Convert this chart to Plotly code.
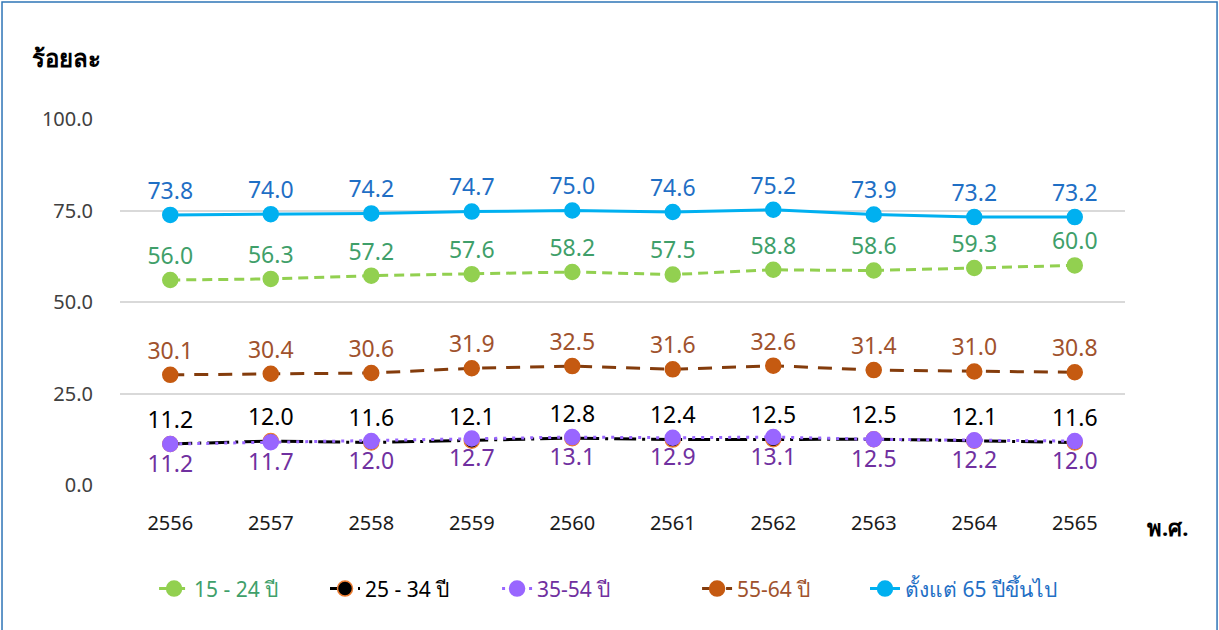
import plotly.graph_objects as go

years = ["2556", "2557", "2558", "2559", "2560", "2561", "2562", "2563", "2564", "2565"]
s15_24 = [56.0, 56.3, 57.2, 57.6, 58.2, 57.5, 58.8, 58.6, 59.3, 60.0]
s25_34 = [11.2, 12.0, 11.6, 12.1, 12.8, 12.4, 12.5, 12.5, 12.1, 11.6]
s35_54 = [11.2, 11.7, 12.0, 12.7, 13.1, 12.9, 13.1, 12.5, 12.2, 12.0]
s55_64 = [30.1, 30.4, 30.6, 31.9, 32.5, 31.6, 32.6, 31.4, 31.0, 30.8]
s65p = [73.8, 74.0, 74.2, 74.7, 75.0, 74.6, 75.2, 73.9, 73.2, 73.2]

names = ["15 - 24 ปี", "25 - 34 ปี", "35-54 ปี", "55-64 ปี", "ตั้งแต่ 65 ปีขึ้นไป"]

FONT = "Tahoma, 'Noto Sans', 'DejaVu Sans', sans-serif"
LBL = 23

fig = go.Figure()

def add(y, name, lcolor, dash, mcolor, mline, tcolor, tpos, legend, width=3):
    fig.add_trace(go.Scatter(
        x=years, y=y, mode="lines+markers+text",
        name=f"<span style='color:{tcolor}'>{name}</span>",
        legend=legend,
        line=dict(color=lcolor, width=width, dash=dash),
        marker=dict(size=15, color=mcolor, line=dict(color=mline, width=1.5)),
        text=[f"{v:.1f}" for v in y], textposition=tpos,
        textfont=dict(size=LBL, color=tcolor, family=FONT),
        cliponaxis=False,
    ))

add(s15_24, names[0], "#92D050", "10px,6px", "#92D050", "#92D050", "#3F9F6A", "top center", "legend")
add(s25_34, names[1], "#000000", "22px,6px,3px,6px", "#000000", "#ED7D31", "#000000", "top center", "legend2")
add(s35_54, names[2], "#9966FF", "3px,6px", "#9966FF", "#9966FF", "#7030A0", "bottom center", "legend3")
add(s55_64, names[3], "#843C0C", "14px,10px", "#C55A11", "#C55A11", "#A0522D", "top center", "legend4")
add(s65p, names[4], "#00B0F0", "solid", "#00B0F0", "#00B0F0", "#1F6FC5", "top center", "legend5")

legend_x = [0.0339, 0.2040, 0.3752, 0.5742, 0.7413]
def leg(x):
    return dict(orientation="h", x=x, xanchor="left", y=-0.284, yanchor="middle",
                font=dict(size=21, family=FONT), bgcolor="rgba(0,0,0,0)")

fig.update_layout(
    width=1219, height=630,
    margin=dict(l=120, r=94, t=119, b=145),
    paper_bgcolor="white", plot_bgcolor="white",
    font=dict(family=FONT, color="#404040"),
    showlegend=True,
    legend=leg(legend_x[0]), legend2=leg(legend_x[1]), legend3=leg(legend_x[2]),
    legend4=leg(legend_x[3]), legend5=leg(legend_x[4]),
    xaxis=dict(type="category", showgrid=False, zeroline=False, showline=False,
               tickfont=dict(size=20, color="#1A1A1A", family=FONT),
               ticklabelstandoff=24, range=[-0.5, 9.5]),
    yaxis=dict(range=[0, 100], tickvals=[0, 25, 50, 75, 100], tickformat=".1f",
               showgrid=True, gridcolor="#D9D9D9", gridwidth=2, zeroline=False,
               showline=False, tickfont=dict(size=20, color="#404040", family=FONT),
               ticklabelstandoff=26),
    shapes=[dict(type="rect", xref="paper", yref="paper",
                 x0=-0.1174, x1=1.0916, y0=-0.42, y1=1.3197,
                 line=dict(color="#2E75B6", width=1.5), fillcolor="rgba(0,0,0,0)")],
    annotations=[
        dict(text="<b>ร้อยละ</b>", xref="paper", yref="paper", x=-0.0896, y=1.169,
             xanchor="left", yanchor="middle", showarrow=False,
             font=dict(size=24, color="#000000", family=FONT)),
        dict(text="<b>พ.ศ.</b>", xref="paper", yref="paper", x=1.0418, y=-0.1148,
             xanchor="center", yanchor="middle", showarrow=False,
             font=dict(size=22, color="#000000", family=FONT)),
    ],
)

fig.write_html("out.html", config={"displayModeBar": False},
               post_script="document.body.style.margin='0';")
